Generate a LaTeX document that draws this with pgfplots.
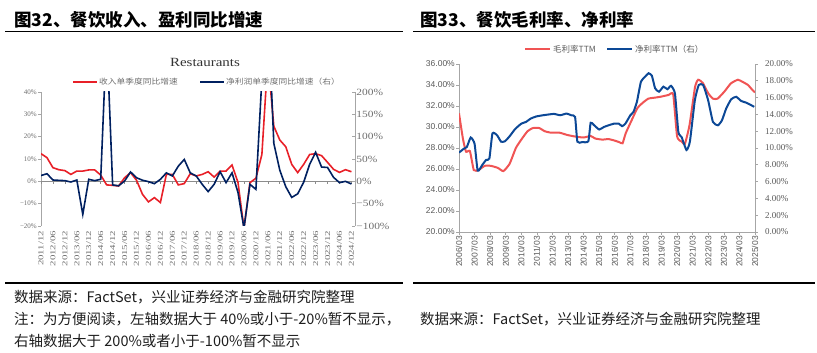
\documentclass[border=0pt]{standalone}
\usepackage{pgfplots}
\pgfplotsset{compat=1.18}
\usepackage{pgfplotstable}
\usepackage{fontspec}
\setmainfont{Liberation Sans}
\newfontfamily\timesf{Liberation Serif}
\newfontfamily\cjk{Noto Sans CJK SC}

\definecolor{lred}{RGB}{232,32,40}
\definecolor{lnavy}{RGB}{0,32,96}
\definecolor{rred}{RGB}{240,84,84}
\definecolor{rblue}{RGB}{12,72,150}
\definecolor{axgray}{RGB}{166,166,166}
\definecolor{zgray}{RGB}{140,140,140}
\definecolor{lblgray}{RGB}{110,110,110}
\definecolor{rlbl}{RGB}{89,89,89}
\definecolor{txt}{RGB}{30,30,30}

\pgfplotstableread{
i rev np
0 12.4 13
1 10.6 17
2 6.1 3
3 5.2 2.2
4 4.8 1.5
5 3.1 -1.5
6 4.6 3
7 4.6 -74
8 5.1 4.5
9 5.1 1.5
10 2.8 4.5
11 -1.6 330
12 -1.8 -8
13 -2.1 -10
14 1.6 0.7
15 3.9 21
16 0.5 8
17 -5.8 2.5
18 -9.2 -0.7
19 -7.3 -5.2
20 -9.5 4.5
21 3.1 19
22 3.1 12
23 -1.6 34
24 -1.0 49
25 3.4 19
26 2.4 12
27 3.1 -6.7
28 4.3 -23
29 1.9 -6.7
30 4.6 21.6
31 4.6 -3
32 7.3 19
33 -0.5 -25
34 -21 -105
35 -0.6 -6.7
36 1.4 -18
37 12 230
38 55 400
39 24.7 85
40 18.5 25
41 15.5 -12
42 7.6 -36
43 3.9 -28
44 7.6 -2
45 12.0 38
46 12.4 65
47 11.5 32
48 8.5 31
49 5.4 9
50 4.0 -3
51 5.2 0
52 4.3 -6
}\leftdata

\pgfplotstableread{
yr gm
2006.00 31.3
2006.25 28.9
2006.45 27.65
2006.70 27.7
2006.95 25.9
2007.25 25.9
2007.65 26.3
2008.05 26.3
2008.50 26.1
2008.85 25.8
2009.25 26.5
2009.65 28.0
2010.00 28.8
2010.40 29.6
2010.75 29.9
2011.15 29.9
2011.50 29.6
2011.90 29.46
2012.45 29.46
2012.95 29.24
2013.50 29.08
2014.00 29.0
2014.45 29.14
2014.75 28.9
2015.20 28.8
2015.60 28.85
2016.00 28.7
2016.30 28.55
2016.50 28.45
2016.70 29.4
2017.10 30.7
2017.45 31.8
2017.75 32.25
2018.15 32.7
2018.60 32.8
2019.00 32.9
2019.45 33.05
2019.75 33.1
2020.00 29.1
2020.30 28.6
2020.50 28.4
2020.80 30.2
2021.15 33.8
2021.35 34.5
2021.65 34.2
2022.00 33.2
2022.30 32.7
2022.60 32.7
2023.05 33.4
2023.45 34.15
2023.90 34.5
2024.20 34.3
2024.55 34.0
2024.85 33.5
2025.00 33.3
}\gmdata

\pgfplotstableread{
yr nm
2006.00 9.45
2006.30 9.9
2006.50 10.1
2006.75 11.25
2007.00 10.5
2007.20 7.3
2007.50 8.0
2007.75 8.6
2007.95 8.75
2008.15 11.75
2008.45 11.5
2008.70 10.75
2008.95 10.8
2009.25 11.4
2009.60 12.25
2010.00 12.9
2010.30 13.1
2010.60 13.5
2010.95 13.75
2011.40 13.9
2011.80 14.0
2012.10 14.06
2012.50 13.9
2012.90 14.1
2013.20 13.9
2013.45 13.7
2013.60 10.75
2013.90 10.7
2014.30 10.8
2014.45 13.0
2014.65 12.75
2015.00 12.2
2015.30 12.5
2015.60 12.7
2015.95 12.9
2016.25 12.9
2016.47 12.6
2016.68 12.9
2017.00 13.9
2017.20 14.3
2017.42 15.5
2017.68 17.9
2017.95 18.5
2018.17 18.9
2018.38 18.6
2018.59 17.1
2018.84 16.7
2019.12 17.3
2019.38 17.0
2019.61 17.4
2019.86 16.5
2020.08 11.9
2020.29 11.3
2020.60 9.76
2020.82 10.75
2021.14 15.7
2021.39 17.5
2021.67 17.5
2021.99 15.7
2022.30 13.1
2022.62 12.7
2022.88 13.3
2023.15 14.7
2023.47 15.8
2023.79 16.1
2024.11 15.6
2024.43 15.4
2024.75 15.1
2024.95 14.9
}\nmdata

\begin{document}
\begin{tikzpicture}
\useasboundingbox (0pt,0pt) rectangle (817pt,353pt);

% ---------- headers and footers ----------
\node[anchor=west, inner sep=0pt] at (14pt,333pt) {\cjk\bfseries\fontsize{17.5}{20}\selectfont 图32、餐饮收入、盈利同比增速};
\node[anchor=west, inner sep=0pt] at (420pt,333pt) {\cjk\bfseries\fontsize{17.5}{20}\selectfont 图33、餐饮毛利率、净利率};
\draw[black, line width=1.3pt] (5pt,321.5pt) -- (403pt,321.5pt);
\draw[black, line width=1.3pt] (413pt,321.5pt) -- (815pt,321.5pt);
\draw[black, line width=1.1pt] (5pt,70pt) -- (403pt,70pt);
\draw[black, line width=1.1pt] (413pt,70pt) -- (815pt,70pt);

\node[anchor=west, inner sep=0pt, text=txt] at (14pt,56pt) {\cjk\fontsize{14.5}{16}\selectfont 数据来源：FactSet，兴业证券经济与金融研究院整理};
\node[anchor=west, inner sep=0pt, text=txt] at (14pt,34pt) {\cjk\fontsize{14.5}{16}\selectfont 注：为方便阅读，左轴数据大于 40\%或小于-20\%暂不显示，};
\node[anchor=west, inner sep=0pt, text=txt] at (14pt,12pt) {\cjk\fontsize{14.5}{16}\selectfont 右轴数据大于 200\%或者小于-100\%暂不显示};
\node[anchor=west, inner sep=0pt, text=txt] at (420pt,34pt) {\cjk\fontsize{14.5}{16}\selectfont 数据来源：FactSet，兴业证券经济与金融研究院整理};

% ---------- left chart title and legend ----------
\node[inner sep=0pt, text=black!80, xscale=1.2] at (205pt,291pt) {\timesf\fontsize{12.5}{14}\selectfont Restaurants};
\draw[lred, line width=2pt] (73pt,271pt) -- (97pt,271pt);
\node[anchor=west, inner sep=0pt, text=lblgray, xscale=1.15] at (99pt,271pt) {\cjk\fontsize{7.6}{9}\selectfont 收入单季度同比增速};
\draw[lnavy, line width=2pt] (200pt,271pt) -- (224pt,271pt);
\node[anchor=west, inner sep=0pt, text=lblgray, xscale=1.15] at (226pt,271pt) {\cjk\fontsize{7.6}{9}\selectfont 净利润单季度同比增速（右）};

% ---------- left chart, left axis ----------
\begin{axis}[
  at={(41pt,127pt)}, anchor=south west, scale only axis, width=314pt, height=134pt,
  xmin=0, xmax=52.6, ymin=-20, ymax=40,
  axis y line*=left, axis x line*=bottom,
  x axis line style={draw=none},
  y axis line style={draw=axgray, line width=0.8pt},
  xtick={0,2,...,52},
  xticklabels={2011/12,2012/06,2012/12,2013/06,2013/12,2014/06,2014/12,2015/06,2015/12,2016/06,2016/12,2017/06,2017/12,2018/06,2018/12,2019/06,2019/12,2020/06,2020/12,2021/06,2021/12,2022/06,2022/12,2023/06,2023/12,2024/06,2024/12},
  x tick style={draw=none},
  xticklabel style={rotate=90, xscale=1.45, anchor=east, font=\timesf\fontsize{7.5}{8}\selectfont, text=lblgray, inner sep=1pt},
  ytick={-20,-10,...,40},
  yticklabels={−20\%,−10\%,0\%,10\%,20\%,30\%,40\%},
  y tick style={draw=axgray, line width=0.6pt},
  yticklabel style={font=\timesf\fontsize{7}{8}\selectfont, text=lblgray, inner sep=1pt},
  tick align=outside, major tick length=3pt,
  clip=true,
]
\draw[zgray, line width=1.1pt] (axis cs:0,0) -- (axis cs:52.6,0);
\pgfplotsinvokeforeach{0,2,...,52}{\draw[zgray, line width=0.6pt] (axis cs:#1,0) -- ++(0pt,-2.5pt);}
\addplot[lred, line width=1.6pt] table[x=i,y=rev]{\leftdata};
\end{axis}

% ---------- left chart, right axis ----------
\begin{axis}[
  at={(41pt,127pt)}, anchor=south west, scale only axis, width=314pt, height=134pt,
  xmin=0, xmax=52.6, ymin=-100, ymax=200,
  axis y line*=right, axis x line=none,
  y axis line style={draw=axgray, line width=0.8pt},
  ytick={-100,-50,...,200},
  yticklabels={−100\%,−50\%,0\%,50\%,100\%,150\%,200\%},
  y tick style={draw=axgray, line width=0.6pt},
  yticklabel style={font=\timesf\fontsize{9.5}{10}\selectfont, xscale=1.2, text=lblgray, inner sep=1pt},
  tick align=inside, major tick length=3pt,
  clip=true,
]
\addplot[lnavy, line width=1.6pt] table[x=i,y=np]{\leftdata};
\end{axis}

% ---------- right chart legend ----------
\draw[rred, line width=2pt] (525pt,304pt) -- (550pt,304pt);
\node[anchor=west, inner sep=0pt, text=rlbl] at (553pt,304pt) {\cjk\fontsize{8.5}{10}\selectfont 毛利率TTM};
\draw[rblue, line width=2pt] (607pt,304pt) -- (632pt,304pt);
\node[anchor=west, inner sep=0pt, text=rlbl] at (635pt,304pt) {\cjk\fontsize{8.5}{10}\selectfont 净利率TTM（右）};

% ---------- right chart, left axis ----------
\begin{axis}[
  at={(459pt,121pt)}, anchor=south west, scale only axis, width=296pt, height=168pt,
  xmin=2006, xmax=2025, ymin=20, ymax=36,
  axis y line*=left, axis x line*=bottom,
  axis line style={draw=axgray, line width=0.8pt},
  xtick={2006,...,2025},
  xticklabels={2006/03,2007/03,2008/03,2009/03,2010/03,2011/03,2012/03,2013/03,2014/03,2015/03,2016/03,2017/03,2018/03,2019/03,2020/03,2021/03,2022/03,2023/03,2024/03,2025/03},
  xticklabel style={rotate=90, anchor=east, font=\fontsize{8.5}{9}\selectfont, text=rlbl, inner sep=1pt},
  ytick={20,22,...,36},
  yticklabels={20.00\%,22.00\%,24.00\%,26.00\%,28.00\%,30.00\%,32.00\%,34.00\%,36.00\%},
  yticklabel style={font=\fontsize{8.5}{9}\selectfont, text=rlbl, inner sep=1pt},
  tick style={draw=axgray, line width=0.6pt},
  tick align=outside, major tick length=3pt,
  clip=true,
]
\addplot[rred, line width=2pt, smooth, tension=0.3] table[x=yr,y=gm]{\gmdata};
\end{axis}

% ---------- right chart, right axis ----------
\begin{axis}[
  at={(459pt,121pt)}, anchor=south west, scale only axis, width=296pt, height=168pt,
  xmin=2006, xmax=2025, ymin=0, ymax=20,
  axis y line*=right, axis x line=none,
  y axis line style={draw=axgray, line width=0.8pt},
  ytick={0,2,...,20},
  yticklabels={0.00\%,2.00\%,4.00\%,6.00\%,8.00\%,10.00\%,12.00\%,14.00\%,16.00\%,18.00\%,20.00\%},
  yticklabel style={font=\timesf\fontsize{9}{10}\selectfont, text=rlbl, inner sep=1pt, xshift=6pt},
  y tick style={draw=axgray, line width=0.6pt},
  tick align=outside, major tick length=3pt,
  clip=true,
]
\addplot[rblue, line width=2pt, smooth, tension=0.3] table[x=yr,y=nm]{\nmdata};
\end{axis}
\end{tikzpicture}
\end{document}
